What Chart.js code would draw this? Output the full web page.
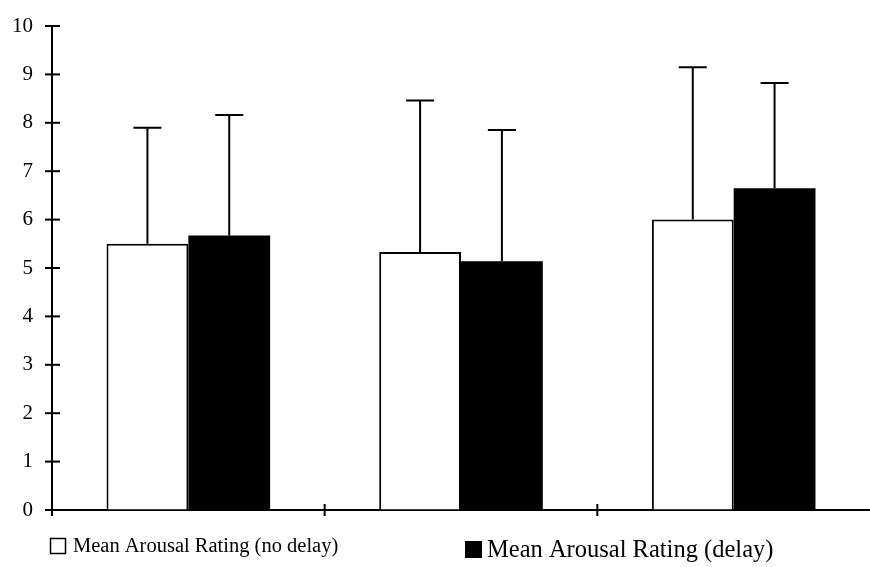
<!DOCTYPE html>
<html>
<head>
<meta charset="utf-8">
<script src="https://cdn.jsdelivr.net/npm/chart.js@4/dist/chart.umd.min.js"></script>
<style>
  body { margin: 0; background: #fff; }
  #wrap { width: 870px; height: 567px; position: relative; }
</style>
</head>
<body>
<div id="wrap"><canvas id="myChart"></canvas></div>
<script>
// data
const categories = ["", "", ""];
const noDelayMeans = [5.5, 5.33, 6.0];
const noDelayErr = [2.4, 3.13, 3.15];
const delayMeans = [5.67, 5.14, 6.65];
const delayErr = [2.49, 2.71, 2.17];
const yTickValues = [0, 1, 2, 3, 4, 5, 6, 7, 8, 9, 10];
const seriesLabels = ["Mean Arousal Rating (no delay)", "Mean Arousal Rating (delay)"];

const serif = "'Liberation Serif', 'DejaVu Serif', serif";

// upward error bars with a cap
const errorBars = {
  id: "errorBars",
  afterDatasetsDraw(chart) {
    const ctx = chart.ctx;
    const y = chart.scales.y;
    ctx.save();
    ctx.strokeStyle = "#000";
    ctx.lineWidth = 2;
    chart.data.datasets.forEach((ds, i) => {
      const meta = chart.getDatasetMeta(i);
      meta.data.forEach((bar, j) => {
        const top = y.getPixelForValue(ds.data[j] + ds.errors[j]);
        ctx.beginPath();
        ctx.moveTo(bar.x, bar.y);
        ctx.lineTo(bar.x, top);
        ctx.moveTo(bar.x - 14, top);
        ctx.lineTo(bar.x + 14, top);
        ctx.stroke();
      });
    });
    ctx.restore();
  },
};

// tick marks crossing the axes + legend at the bottom
const axisDecor = {
  id: "axisDecor",
  afterDraw(chart) {
    const ctx = chart.ctx;
    const x = chart.scales.x;
    const y = chart.scales.y;
    const area = chart.chartArea;
    ctx.save();
    ctx.strokeStyle = "#000";
    ctx.lineWidth = 2;
    yTickValues.forEach((v) => {
      const py = y.getPixelForValue(v);
      ctx.beginPath();
      ctx.moveTo(area.left - 7, py);
      ctx.lineTo(area.left + 8, py);
      ctx.stroke();
    });
    for (let i = 0; i < categories.length; i++) {
      const px = x.getPixelForValue(i - 0.5);
      ctx.beginPath();
      ctx.moveTo(px, area.bottom - 6);
      ctx.lineTo(px, area.bottom + 6);
      ctx.stroke();
    }

    // legend (the two entries are set in slightly different sizes in the original)
    const items = [
      { bx: 50, by: 538, size: 16, font: 20.5, tx: 73 },
      { bx: 465, by: 541, size: 17, font: 24.5, tx: 487 },
    ];
    ctx.textBaseline = "middle";
    ctx.fillStyle = "#000";
    chart.data.datasets.forEach((ds, i) => {
      const it = items[i];
      if (ds.backgroundColor === "#000") {
        ctx.fillRect(it.bx, it.by, it.size, it.size);
      } else {
        ctx.lineWidth = 1.5;
        ctx.strokeRect(it.bx + 0.5, it.by + 0.5, it.size - 1, it.size - 1);
      }
      ctx.font = it.font + "px " + serif;
      ctx.fillText(ds.label, it.tx, it.by + it.size / 2 + 1);
    });
    ctx.restore();
  },
};

new Chart(document.getElementById("myChart"), {
  type: "bar",
  data: {
    labels: categories,
    datasets: [
      {
        label: seriesLabels[0],
        data: noDelayMeans,
        errors: noDelayErr,
        backgroundColor: "#fff",
        borderColor: "#000",
        borderWidth: 2,
      },
      {
        label: seriesLabels[1],
        data: delayMeans,
        errors: delayErr,
        backgroundColor: "#000",
        borderColor: "#000",
        borderWidth: 0,
      },
    ],
  },
  options: {
    responsive: true,
    maintainAspectRatio: false,
    animation: false,
    layout: { padding: { left: 12, top: 26, right: 0, bottom: 57 } },
    datasets: {
      bar: { categoryPercentage: 0.6, barPercentage: 1.0 },
    },
    plugins: {
      legend: { display: false },
      tooltip: { enabled: false },
    },
    scales: {
      x: {
        ticks: { display: false },
        grid: { display: true, drawOnChartArea: false, drawTicks: false },
        border: { display: true, color: "#000", width: 2 },
      },
      y: {
        min: 0,
        max: 10,
        afterBuildTicks: (scale) => {
          scale.ticks = yTickValues.map((v) => ({ value: v }));
        },
        afterFit: (scale) => {
          scale.width = 40;
          scale.paddingTop = 0;
          scale.paddingBottom = 0;
        },
        ticks: {
          color: "#000",
          padding: 19,
          font: { family: serif, size: 21 },
        },
        grid: { display: true, drawOnChartArea: false, drawTicks: false },
        border: { display: true, color: "#000", width: 2 },
      },
    },
  },
  plugins: [errorBars, axisDecor],
});
</script>
</body>
</html>
